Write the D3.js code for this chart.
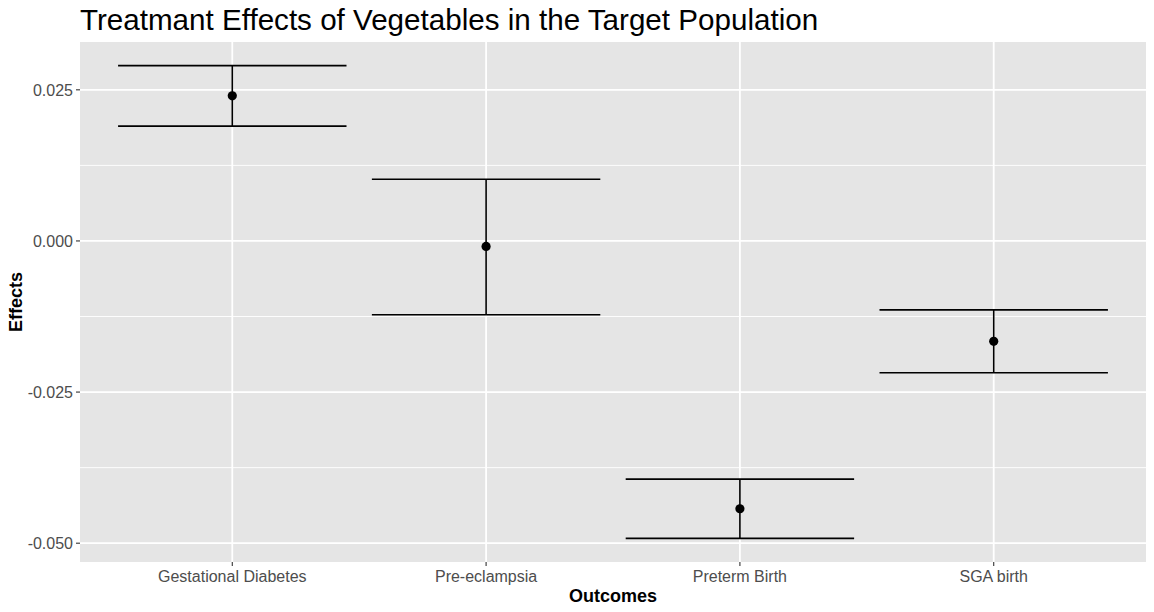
<!DOCTYPE html>
<html>
<head>
<meta charset="utf-8">
<script src="https://cdn.jsdelivr.net/npm/d3@7"></script>
<style>
  html, body { margin: 0; padding: 0; background: #fff; }
  #chart { width: 1154px; height: 612px; }
</style>
</head>
<body>
<div id="chart"></div>
<script>
const outcomes = ["Gestational Diabetes", "Pre-eclampsia", "Preterm Birth", "SGA birth"];
const effects = [0.0240, -0.0009, -0.0443, -0.0166];
const lower = [0.0190, -0.0122, -0.0492, -0.0218];
const upper = [0.0290, 0.0102, -0.0394, -0.0114];
const yTicks = [-0.050, -0.025, 0.000, 0.025];
const yMinor = [-0.0375, -0.0125, 0.0125];

const width = 1154, height = 612;
const panel = { left: 80, right: 1146, top: 42, bottom: 562 };
const font = "Liberation Sans, Arial, Helvetica, sans-serif";

const svg = d3.select("#chart").append("svg")
  .attr("width", width)
  .attr("height", height)
  .style("font-family", font);

// discrete x: categories 1..n with 0.6 added each side
const x = d3.scaleLinear()
  .domain([0.4, outcomes.length + 0.6])
  .range([panel.left, panel.right]);

const lo = d3.min(lower), hi = d3.max(upper);
const pad = (hi - lo) * 0.05;
const y = d3.scaleLinear()
  .domain([lo - pad, hi + pad])
  .range([panel.bottom, panel.top]);

svg.append("rect")
  .attr("x", panel.left).attr("y", panel.top)
  .attr("width", panel.right - panel.left)
  .attr("height", panel.bottom - panel.top)
  .attr("fill", "#E5E5E5");

const grid = svg.append("g");
grid.selectAll("line.minor").data(yMinor).join("line")
  .attr("x1", panel.left).attr("x2", panel.right)
  .attr("y1", d => y(d)).attr("y2", d => y(d))
  .attr("stroke", "#fff").attr("stroke-width", 0.9);
grid.selectAll("line.majory").data(yTicks).join("line")
  .attr("x1", panel.left).attr("x2", panel.right)
  .attr("y1", d => y(d)).attr("y2", d => y(d))
  .attr("stroke", "#fff").attr("stroke-width", 1.8);
grid.selectAll("line.majorx").data(outcomes).join("line")
  .attr("x1", (d, i) => x(i + 1)).attr("x2", (d, i) => x(i + 1))
  .attr("y1", panel.top).attr("y2", panel.bottom)
  .attr("stroke", "#fff").attr("stroke-width", 1.8);

// error bars
const half = 0.45;
const bars = svg.append("g").attr("stroke", "#000").attr("stroke-width", 1.6);
outcomes.forEach((o, i) => {
  const cx = x(i + 1);
  bars.append("line")
    .attr("x1", cx).attr("x2", cx)
    .attr("y1", y(upper[i])).attr("y2", y(lower[i]));
  bars.append("line")
    .attr("x1", x(i + 1 - half)).attr("x2", x(i + 1 + half))
    .attr("y1", y(upper[i])).attr("y2", y(upper[i]));
  bars.append("line")
    .attr("x1", x(i + 1 - half)).attr("x2", x(i + 1 + half))
    .attr("y1", y(lower[i])).attr("y2", y(lower[i]));
});

svg.append("g").selectAll("circle").data(effects).join("circle")
  .attr("cx", (d, i) => x(i + 1))
  .attr("cy", d => y(d))
  .attr("r", 4.6)
  .attr("fill", "#000");

// y axis
const yAxis = svg.append("g");
yAxis.selectAll("line").data(yTicks).join("line")
  .attr("x1", panel.left - 4).attr("x2", panel.left)
  .attr("y1", d => y(d)).attr("y2", d => y(d))
  .attr("stroke", "#333").attr("stroke-width", 1.1);
yAxis.selectAll("text").data(yTicks).join("text")
  .attr("x", panel.left - 7)
  .attr("y", d => y(d))
  .attr("dy", "0.36em")
  .attr("text-anchor", "end")
  .attr("font-size", 16)
  .attr("fill", "#4D4D4D")
  .text(d => d3.format(".3f")(d).replace("−", "-"));

// x axis
const xAxis = svg.append("g");
xAxis.selectAll("line").data(outcomes).join("line")
  .attr("x1", (d, i) => x(i + 1)).attr("x2", (d, i) => x(i + 1))
  .attr("y1", panel.bottom).attr("y2", panel.bottom + 4)
  .attr("stroke", "#333").attr("stroke-width", 1.1);
xAxis.selectAll("text").data(outcomes).join("text")
  .attr("x", (d, i) => x(i + 1))
  .attr("y", 581.5)
  .attr("text-anchor", "middle")
  .attr("font-size", 16)
  .attr("fill", "#4D4D4D")
  .text(d => d);

svg.append("text")
  .attr("x", (panel.left + panel.right) / 2)
  .attr("y", 601.5)
  .attr("text-anchor", "middle")
  .attr("font-size", 18)
  .attr("font-weight", "bold")
  .attr("fill", "#000")
  .text("Outcomes");

svg.append("text")
  .attr("transform", `translate(21.5,${(panel.top + panel.bottom) / 2}) rotate(-90)`)
  .attr("text-anchor", "middle")
  .attr("font-size", 18)
  .attr("font-weight", "bold")
  .attr("fill", "#000")
  .text("Effects");

svg.append("text")
  .attr("x", panel.left)
  .attr("y", 29.5)
  .attr("font-size", 29.6)
  .attr("fill", "#000")
  .text("Treatmant Effects of Vegetables in the Target Population");
</script>
</body>
</html>
